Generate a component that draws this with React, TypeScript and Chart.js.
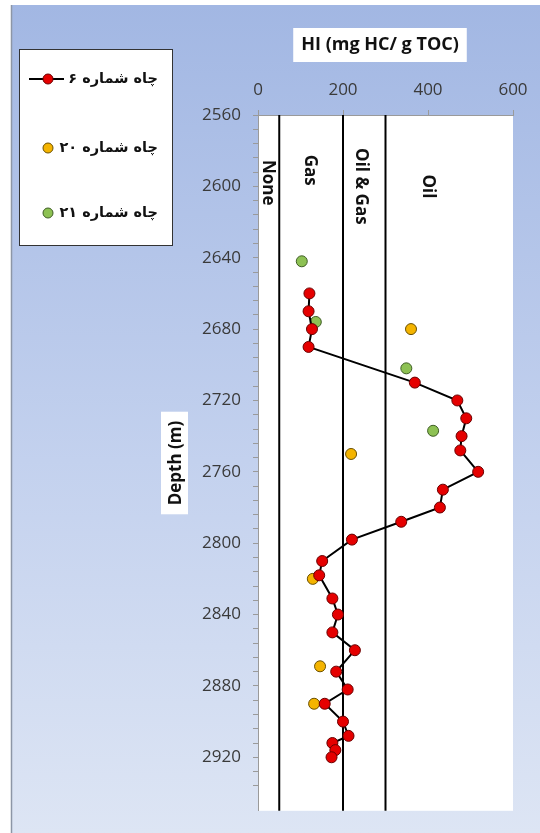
import { useEffect, useRef } from 'react';
import { Chart, registerables } from 'chart.js';

Chart.register(...registerables);

// Well 6: depth (m) and hydrogen index (mg HC / g TOC), connected profile
const well6Depth = [2660, 2670, 2680, 2690, 2710, 2720, 2730, 2740, 2748, 2760, 2770, 2780, 2788, 2798, 2810, 2818, 2831, 2840, 2850, 2860, 2872, 2882, 2890, 2900, 2908, 2912, 2916, 2920];
const well6HI = [121, 119, 127, 119, 369, 469, 490, 479, 476, 518, 435, 428, 337, 221, 151, 144, 175, 188, 175, 228, 184, 211, 157, 200, 213, 175, 182, 173];

// Well 20 samples
const well20Depth = [2680, 2750, 2820, 2869, 2890];
const well20HI = [360, 219, 129, 146, 132];

// Well 21 samples
const well21Depth = [2642, 2676, 2702, 2737];
const well21HI = [103, 136, 349, 412];

const seriesNames = ['چاه شماره ۶', 'چاه شماره ۲۰', 'چاه شماره ۲۱'];

// Hydrocarbon generation zones on the HI axis
const zoneLimits = [50, 200, 300];
const zoneNames = ['None', 'Gas', 'Oil & Gas', 'Oil'];
const zoneLabelHI = [24, 122, 242, 400];
const zoneLabelDepth = [2598, 2591, 2600, 2600];

const xTitle = 'HI (mg HC/ g TOC)';
const yTitle = 'Depth (m)';

const depthMin = 2560;
const depthMax = 2950;
const hiMin = 0;
const hiMax = 600;

const RED = '#e50000';
const YELLOW = '#f4b400';
const GREEN = '#8dc153';

const toPoints = (xs: number[], ys: number[]) => xs.map((x, i) => ({ x, y: ys[i] }));

const decorPlugin = {
  id: 'decor',
  beforeDraw(chart: any) {
    const { ctx, width, height, chartArea } = chart;
    ctx.save();
    ctx.fillStyle = '#ffffff';
    ctx.fillRect(0, 0, width, height);
    const g = ctx.createLinearGradient(0, 5, 0, height);
    g.addColorStop(0, '#a2b7e3');
    g.addColorStop(0.55, '#c3d1ee');
    g.addColorStop(1, '#dde5f4');
    ctx.fillStyle = g;
    ctx.fillRect(11, 5, width - 11, height - 5);
    ctx.strokeStyle = '#8d96a6';
    ctx.lineWidth = 1.5;
    ctx.beginPath();
    ctx.moveTo(11.5, 5);
    ctx.lineTo(11.5, height);
    ctx.stroke();
    ctx.fillStyle = '#ffffff';
    ctx.fillRect(chartArea.left, chartArea.top, chartArea.right - chartArea.left, chartArea.bottom - chartArea.top);
    ctx.restore();
  },
  beforeDatasetsDraw(chart: any) {
    const { ctx, chartArea, scales } = chart;
    const x = scales.x;
    const y = scales.y;
    ctx.save();
    ctx.strokeStyle = '#000000';
    ctx.lineWidth = 2;
    zoneLimits.forEach((v) => {
      const px = x.getPixelForValue(v);
      ctx.beginPath();
      ctx.moveTo(px, chartArea.top);
      ctx.lineTo(px, chartArea.bottom);
      ctx.stroke();
    });
    ctx.fillStyle = '#111111';
    ctx.font = 'bold 17px "Open Sans", sans-serif';
    ctx.textAlign = 'center';
    ctx.textBaseline = 'middle';
    zoneNames.forEach((name, i) => {
      const px = x.getPixelForValue(zoneLabelHI[i]);
      const py = y.getPixelForValue(zoneLabelDepth[i]);
      ctx.save();
      ctx.translate(px, py);
      ctx.rotate(Math.PI / 2);
      ctx.fillText(name, 0, 0);
      ctx.restore();
    });
    ctx.restore();
  },
  afterDraw(chart: any) {
    const { ctx } = chart;
    ctx.save();

    // Axis title above the HI axis
    ctx.font = 'bold 18px "Open Sans", sans-serif';
    const tw = ctx.measureText(xTitle).width;
    const tcx = 380;
    ctx.fillStyle = '#ffffff';
    ctx.fillRect(tcx - tw / 2 - 8, 28, tw + 16, 34);
    ctx.fillStyle = '#111111';
    ctx.textAlign = 'center';
    ctx.textBaseline = 'middle';
    ctx.fillText(xTitle, tcx, 45);

    // Depth axis title, rotated
    ctx.font = 'bold 17px "Open Sans", sans-serif';
    const dw = ctx.measureText(yTitle).width;
    const dcy = 463;
    ctx.fillStyle = '#ffffff';
    ctx.fillRect(161, dcy - dw / 2 - 9, 27, dw + 18);
    ctx.save();
    ctx.translate(175, dcy);
    ctx.rotate(-Math.PI / 2);
    ctx.fillStyle = '#111111';
    ctx.fillText(yTitle, 0, 1);
    ctx.restore();

    // Legend box
    ctx.fillStyle = '#ffffff';
    ctx.fillRect(19, 49, 153, 196);
    ctx.strokeStyle = '#333333';
    ctx.lineWidth = 1;
    ctx.strokeRect(19.5, 49.5, 153, 196);

    const rows = [79, 148, 213];
    const fills = [RED, YELLOW, GREEN];
    const borders = ['#6a0000', '#6b5000', '#3f5e25'];
    ctx.strokeStyle = '#000000';
    ctx.lineWidth = 2;
    ctx.beginPath();
    ctx.moveTo(29, rows[0]);
    ctx.lineTo(64, rows[0]);
    ctx.stroke();
    rows.forEach((ry, i) => {
      ctx.beginPath();
      ctx.arc(48, ry, 5, 0, Math.PI * 2);
      ctx.fillStyle = fills[i];
      ctx.fill();
      ctx.lineWidth = 1;
      ctx.strokeStyle = borders[i];
      ctx.stroke();
      ctx.fillStyle = '#111111';
      ctx.font = 'bold 14.5px "DejaVu Sans", sans-serif';
      ctx.direction = 'rtl';
      ctx.textAlign = 'right';
      ctx.textBaseline = 'middle';
      ctx.fillText(seriesNames[i], 158, ry);
    });
    ctx.restore();
  },
};

export default function App() {
  const canvasRef = useRef<HTMLCanvasElement | null>(null);

  useEffect(() => {
    const canvas = canvasRef.current;
    if (!canvas) return;
    const tickFont = { family: '"Open Sans", sans-serif', size: 17 };
    const chart = new Chart(canvas, {
      type: 'scatter',
      data: {
        datasets: [
          {
            label: seriesNames[0],
            data: toPoints(well6HI, well6Depth),
            showLine: true,
            borderColor: '#000000',
            borderWidth: 2,
            pointRadius: 5.5,
            pointBackgroundColor: RED,
            pointBorderColor: '#6a0000',
            pointBorderWidth: 1,
          },
          {
            label: seriesNames[1],
            data: toPoints(well20HI, well20Depth),
            pointRadius: 5.5,
            pointBackgroundColor: YELLOW,
            pointBorderColor: '#6b5000',
            pointBorderWidth: 1,
          },
          {
            label: seriesNames[2],
            data: toPoints(well21HI, well21Depth),
            pointRadius: 5.5,
            pointBackgroundColor: GREEN,
            pointBorderColor: '#3f5e25',
            pointBorderWidth: 1,
          },
        ],
      },
      options: {
        responsive: false,
        animation: false,
        devicePixelRatio: 1,
        layout: { padding: { left: 0, top: 0, right: 27, bottom: 21 } },
        plugins: {
          legend: { display: false },
          tooltip: { enabled: false },
          title: { display: false },
        },
        scales: {
          x: {
            type: 'linear',
            position: 'top',
            min: hiMin,
            max: hiMax,
            ticks: { stepSize: 200, font: tickFont, color: '#3a3a3a', padding: 10, maxRotation: 0 },
            grid: { drawOnChartArea: false, drawTicks: true, tickLength: 5, color: '#9a9a9a' },
            border: { color: '#9a9a9a' },
            afterFit: (s: any) => {
              s.height = 115;
            },
          },
          y: {
            type: 'linear',
            reverse: true,
            min: depthMin,
            max: depthMax,
            afterBuildTicks: (s: any) => {
              s.ticks = s.ticks.filter((t: any) => t.value % 8 === 0);
            },
            ticks: {
              stepSize: 8,
              autoSkip: false,
              font: tickFont,
              color: '#3a3a3a',
              padding: 12,
              callback: (v: any) => (Number(v) % 40 === 0 ? String(v) : ''),
            },
            grid: { drawOnChartArea: false, drawTicks: true, tickLength: 5, color: '#9a9a9a' },
            border: { color: '#9a9a9a' },
            afterFit: (s: any) => {
              s.width = 258;
            },
          },
        },
      },
      plugins: [decorPlugin],
    } as any);
    return () => chart.destroy();
  }, []);

  return (
    <div style={{ position: 'absolute', left: 0, top: 0, width: 540, height: 833 }}>
      <canvas ref={canvasRef} width={540} height={833} style={{ display: 'block' }} />
    </div>
  );
}
